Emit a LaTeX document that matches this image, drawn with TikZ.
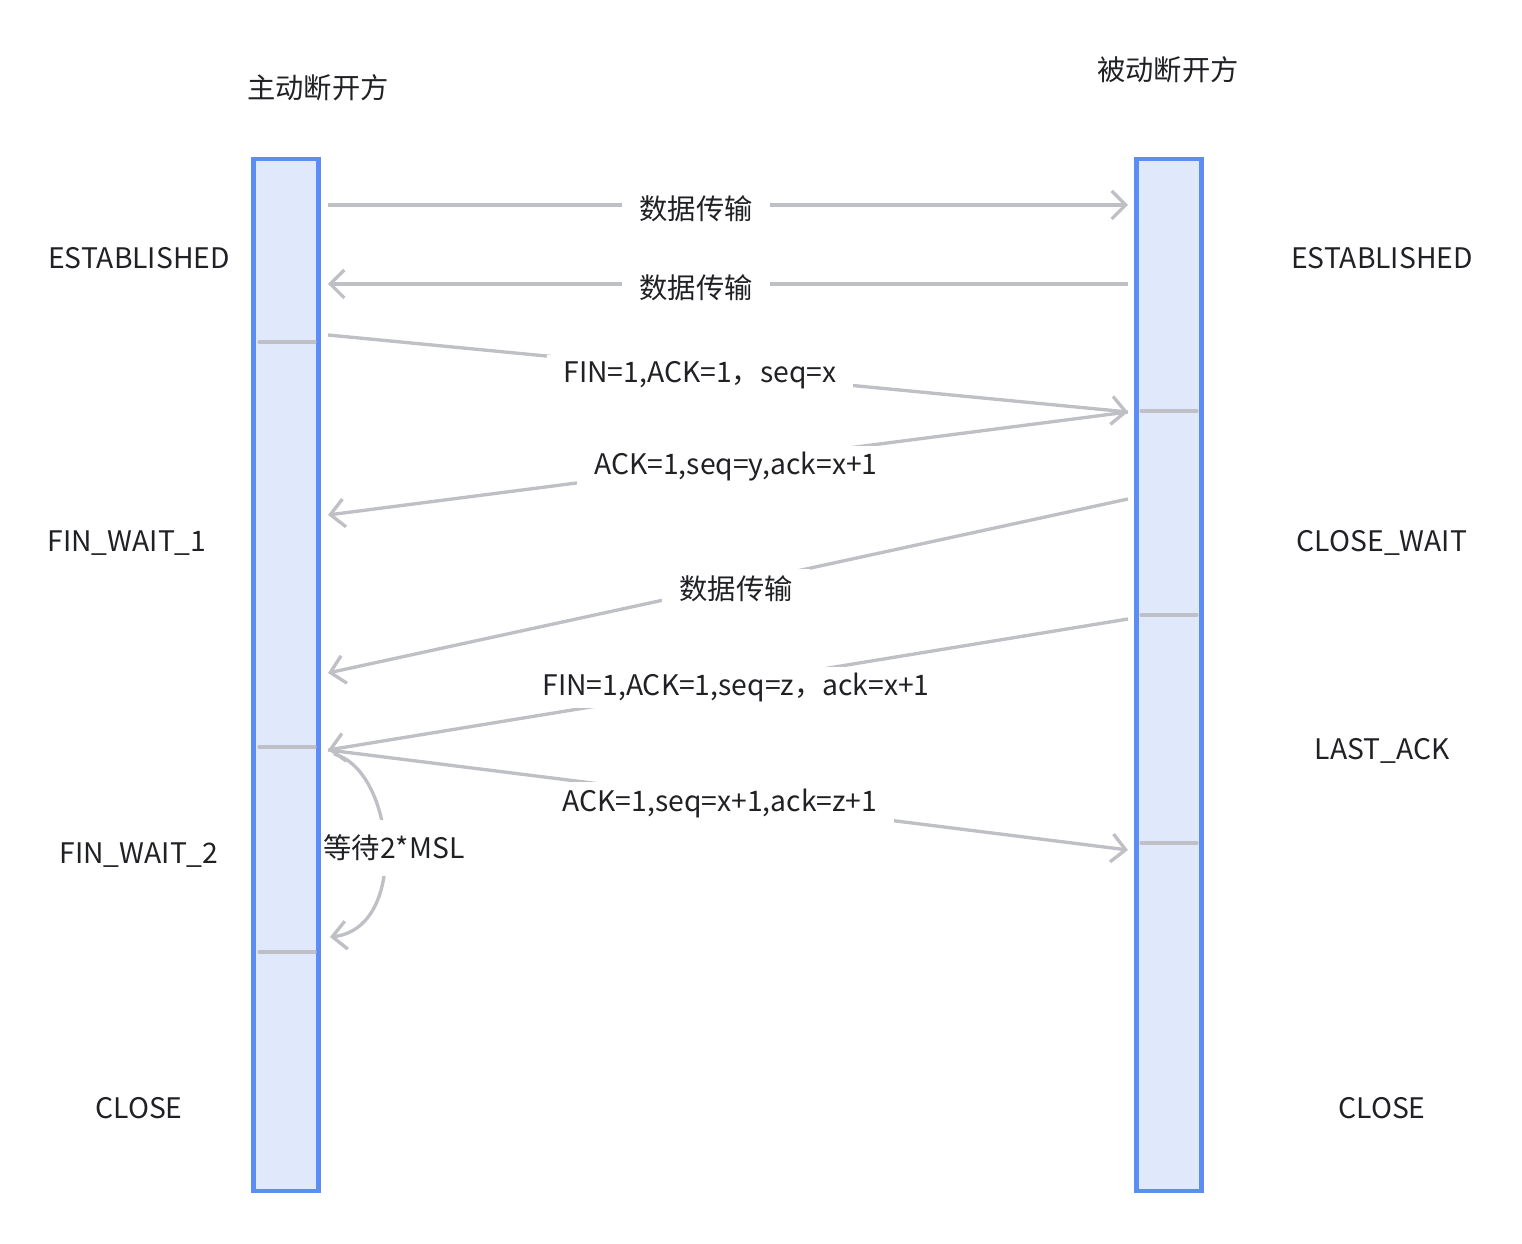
\documentclass[tikz,border=0pt]{standalone}
\usepackage{fontspec}
\setmainfont{Noto Sans CJK SC}
\usetikzlibrary{arrows.meta}
\definecolor{barblue}{RGB}{91,141,245}
\definecolor{barfill}{RGB}{224,232,252}
\definecolor{msggray}{RGB}{190,192,197}
\definecolor{txtgray}{RGB}{32,33,36}

\begin{document}
\begin{tikzpicture}[x=0.1mm, y=-0.1mm,
  every node/.style={text=txtgray, font=\fontsize{8.05}{9.5}\selectfont},
  bar/.style={draw=barblue, fill=barfill, line width=1.3pt, minimum width=6.45mm, minimum height=103.2mm, inner sep=0pt},
  tick/.style={draw=msggray, line width=0.95pt, line cap=round},
  msg/.style={draw=msggray, line width=0.95pt, -{Straight Barb[length=1.4mm, width=2.8mm]}},
  lbl/.style={fill=white, inner xsep=1.7mm, inner ysep=0.6mm, yshift=-0.4mm}]
\useasboundingbox (0,0) rectangle (1522,1244);
% lifelines
\node[bar] (lbar) at (286,675) {};
\node[bar] (rbar) at (1169,675) {};
\node (lhead) at (318,88) {主动断开方};
\node (rhead) at (1168,70) {被动断开方};
% states
\node (l1) at (139,258) {ESTABLISHED};
\node (l2) at (127,543) {FIN\_WAIT\_1};
\node (l3) at (139,855) {FIN\_WAIT\_2};
\node (l4) at (139,1108) {CLOSE};
\node (r1) at (1382,258) {ESTABLISHED};
\node (r2) at (1382,543) {CLOSE\_WAIT};
\node (r3) at (1382,751) {LAST\_ACK};
\node (r4) at (1382,1108) {CLOSE};
% ticks
\foreach \y in {342,747,952} \draw[tick] (259,\y) -- (315,\y);
\foreach \y in {411,615,843} \draw[tick] (1141,\y) -- (1197,\y);
% end points
\coordinate (a1) at (328,205);  \coordinate (b1) at (1128,205);
\coordinate (a2) at (328,284);  \coordinate (b2) at (1128,284);
\coordinate (a3) at (328,335);  \coordinate (b3) at (1128,412);
\coordinate (a4) at (328,515);
\coordinate (a5) at (328,673);  \coordinate (b5) at (1128,499);
\coordinate (a6) at (328,750);  \coordinate (b6) at (1128,619);
\coordinate (b7) at (1128,850);
\coordinate (w1) at (334,754);  \coordinate (w2) at (330,937);
% messages
\draw[msg] (a1) -- node[lbl, pos=0.46] (m1) {数据传输} (b1);
\draw[msg] (b2) -- node[lbl, pos=0.54] (m2) {数据传输} (a2);
\draw[msg] (a3) -- node[lbl, pos=0.465] (m3) {FIN=1,ACK=1，seq=x} (b3);
\draw[msg] (b3) -- node[lbl, pos=0.49] (m4) {ACK=1,seq=y,ack=x+1} (a4);
\draw[msg] (b5) -- node[lbl, pos=0.49] (m5) {数据传输} (a5);
\draw[msg] (b6) -- node[lbl, pos=0.49] (m6) {FIN=1,ACK=1,seq=z，ack=x+1} (a6);
\draw[msg] (a6) -- node[lbl, pos=0.49] (m7) {ACK=1,seq=x+1,ack=z+1} (b7);
% wait
\draw[msg] (w1) .. controls (395,770) and (410,928) .. (w2);
\node[fill=white, anchor=west, inner xsep=0pt, inner ysep=1.5mm] (wait) at (323,848) {等待2*MSL};
\end{tikzpicture}
\end{document}
